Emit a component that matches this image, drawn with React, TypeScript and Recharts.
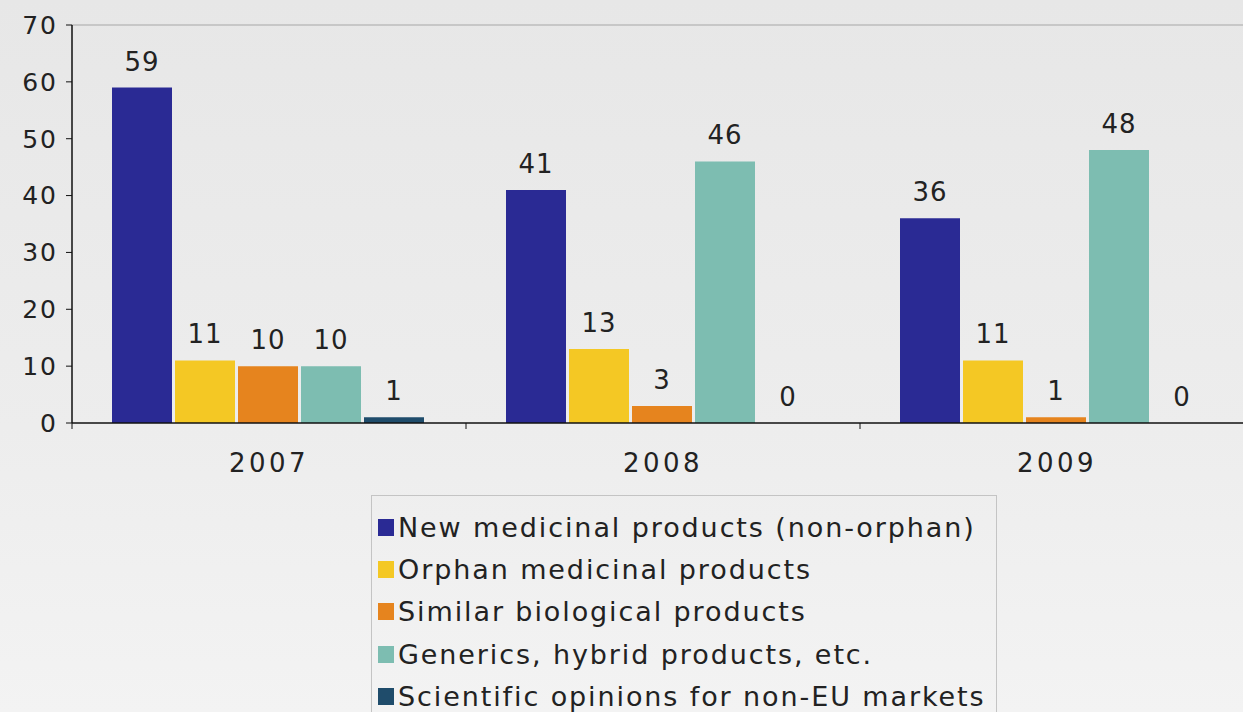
import React from "react";
import {
  BarChart,
  Bar,
  XAxis,
  YAxis,
  Legend,
  LabelList,
  ReferenceLine,
} from "recharts";

const years = ["2007", "2008", "2009"];
const newMedicinal = [59, 41, 36];
const orphan = [11, 13, 11];
const similarBio = [10, 3, 1];
const generics = [10, 46, 48];
const scientific = [1, 0, 0];
const yTicks = [0, 10, 20, 30, 40, 50, 60, 70];

const SERIES = [
  { key: "newMed", name: "New medicinal products (non-orphan)", color: "#2a2a94", values: newMedicinal },
  { key: "orphan", name: "Orphan medicinal products", color: "#f4c824", values: orphan },
  { key: "similar", name: "Similar biological products", color: "#e6841e", values: similarBio },
  { key: "generics", name: "Generics, hybrid products, etc.", color: "#7dbdb1", values: generics },
  { key: "scientific", name: "Scientific opinions for non-EU markets", color: "#1f4c6b", values: scientific },
];

const data = years.map((year, i) => {
  const row: Record<string, string | number> = { year };
  SERIES.forEach((s) => {
    row[s.key] = s.values[i];
  });
  return row;
});

const FONT = "Verdana, 'DejaVu Sans', sans-serif";
const CHART_W = 1254;
const CHART_H = 712;
const Y_W = 72;
const BAND = (CHART_W - Y_W) / years.length;

function YearTick(props: any) {
  const { x, y, payload, index } = props;
  return (
    <g>
      {index === 0 && (
        <line x1={x - BAND / 2} x2={x - BAND / 2} y1={y} y2={y + 6} stroke="#111" />
      )}
      <line x1={x + BAND / 2} x2={x + BAND / 2} y1={y} y2={y + 6} stroke="#111" />
      <text
        x={x}
        y={y + 49}
        textAnchor="middle"
        fontSize={26}
        letterSpacing={3.5}
        fontFamily={FONT}
        fill="#222"
      >
        {payload.value}
      </text>
    </g>
  );
}

function LegendBox() {
  return (
    <div
      style={{
        border: "1px solid #c4c4c4",
        height: 240,
        boxSizing: "border-box",
        padding: "10px 0 0 6px",
        fontFamily: FONT,
        fontSize: 27,
        letterSpacing: 1.9,
        color: "#222",
        whiteSpace: "nowrap",
      }}
    >
      {SERIES.map((s) => (
        <div key={s.key} style={{ display: "flex", alignItems: "center", height: 42.3 }}>
          <span
            style={{
              display: "inline-block",
              flex: "0 0 16px",
              width: 16,
              height: 17,
              background: s.color,
              marginRight: 4,
            }}
          />
          <span>{s.name}</span>
        </div>
      ))}
    </div>
  );
}

export default function App() {
  return (
    <div
      style={{
        width: 1243,
        height: 712,
        overflow: "hidden",
        position: "relative",
        background: "linear-gradient(180deg, #e7e7e7 0%, #ededed 60%, #f3f3f3 100%)",
      }}
    >
      <style>{"body{margin:0}"}</style>
      <BarChart
        width={CHART_W}
        height={CHART_H}
        data={data}
        margin={{ top: 25, right: 0, bottom: 229, left: 0 }}
        barCategoryGap={40}
        barGap={3}
      >
        <ReferenceLine y={70} stroke="#bcbcbc" strokeWidth={1.5} />
        <XAxis
          dataKey="year"
          height={60}
          tickLine={false}
          tickSize={0}
          tickMargin={0}
          axisLine={{ stroke: "#111", strokeWidth: 1.5 }}
          tick={<YearTick />}
          interval={0}
        />
        <YAxis
          width={Y_W}
          domain={[0, 70]}
          ticks={yTicks}
          interval={0}
          tickSize={6}
          tickMargin={8}
          tickLine={{ stroke: "#111" }}
          axisLine={{ stroke: "#111", strokeWidth: 1.5 }}
          tick={{ fontSize: 25, letterSpacing: 2, fontFamily: FONT, fill: "#222" }}
        />
        <Legend
          layout="horizontal"
          verticalAlign="middle"
          align="center"
          wrapperStyle={{ top: 495, left: 371, width: 626, height: 240 }}
          content={() => <LegendBox />}
        />
        {SERIES.map((s) => (
          <Bar
            key={s.key}
            dataKey={s.key}
            name={s.name}
            fill={s.color}
            minPointSize={(v: number) => (v === 0 ? 0.01 : 0)}
            isAnimationActive={false}
          >
            <LabelList
              dataKey={s.key}
              position="top"
              offset={17}
              fontSize={26}
              letterSpacing={1}
              fontFamily={FONT}
              fill="#222"
            />
          </Bar>
        ))}
      </BarChart>
    </div>
  );
}
